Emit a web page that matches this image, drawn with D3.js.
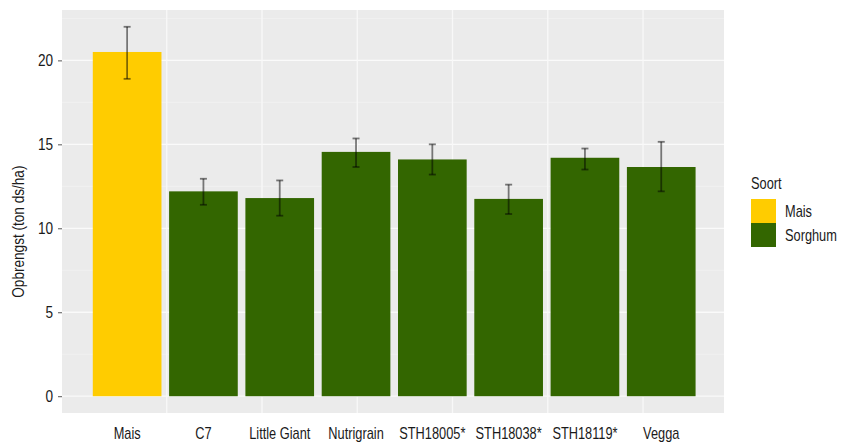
<!DOCTYPE html>
<html>
<head>
<meta charset="utf-8">
<script src="https://cdn.jsdelivr.net/npm/d3@7"></script>
<style>
  html, body { margin: 0; padding: 0; background: #ffffff; }
  svg { display: block; }
  text { font-family: "Liberation Sans", Arial, sans-serif; }
</style>
</head>
<body>
<svg id="chart" width="844" height="445"></svg>
<script>
// Yield per variety (ton ds/ha): mean with lower / upper error bar ends
const varieties = ["Mais", "C7", "Little Giant", "Nutrigrain", "STH18005*", "STH18038*", "STH18119*", "Vegga"];
const soort     = ["Mais", "Sorghum", "Sorghum", "Sorghum", "Sorghum", "Sorghum", "Sorghum", "Sorghum"];
const yieldMean = [20.5, 12.2, 11.8, 14.55, 14.1, 11.75, 14.2, 13.65];
const yieldLow  = [18.9, 11.4, 10.75, 13.65, 13.2, 10.85, 13.5, 12.2];
const yieldHigh = [22.0, 12.95, 12.85, 15.35, 15.0, 12.6, 14.75, 15.15];
const yTicks    = [0, 5, 10, 15, 20];
const yMinor    = [2.5, 7.5, 12.5, 17.5, 22.5];
const groups    = ["Mais", "Sorghum"];
const groupColors = ["#FFCC00", "#336600"];

const FONT_SIZE = "17px";
const SMALL_FONT_SIZE = "16px";
const NARROW = 0.8;   // condensed type: glyphs squeezed horizontally

// squeeze each text node horizontally around its anchor point
function condense(sel) {
  sel.each(function () {
    const ax = +this.getAttribute("x") || 0;
    const t = this.getAttribute("transform") || "";
    this.setAttribute("transform",
      `${t} translate(${ax},0) scale(${NARROW},1) translate(${-ax},0)`.trim());
  });
}

const svg = d3.select("#chart");
const panel = { left: 62, right: 724, top: 10, bottom: 413 };

const x = d3.scaleBand()
  .domain(varieties)
  .range([panel.left, panel.right])
  .paddingInner(0.1)
  .paddingOuter(0.388)
  .align(0.52);

const y = d3.scaleLinear()
  .domain([-1.0, 23.0])
  .range([panel.bottom, panel.top]);

const color = d3.scaleOrdinal().domain(groups).range(groupColors);

// vertical background guides
const xGuide = d3.scaleLinear().domain([-0.1, 6.85]).range([panel.left, panel.right]);

// panel background
svg.append("rect")
  .attr("x", panel.left).attr("y", panel.top)
  .attr("width", panel.right - panel.left)
  .attr("height", panel.bottom - panel.top)
  .attr("fill", "#EBEBEB");

const grid = svg.append("g");
grid.selectAll("line.minor").data(yMinor).join("line")
  .attr("class", "minor")
  .attr("x1", panel.left).attr("x2", panel.right)
  .attr("y1", d => y(d)).attr("y2", d => y(d))
  .attr("stroke", "#F3F3F3").attr("stroke-width", 0.8);
grid.selectAll("line.major").data(yTicks).join("line")
  .attr("class", "major")
  .attr("x1", panel.left).attr("x2", panel.right)
  .attr("y1", d => y(d)).attr("y2", d => y(d))
  .attr("stroke", "#FAFAFA").attr("stroke-width", 1.3);
grid.selectAll("line.vert").data(d3.range(1, 7)).join("line")
  .attr("class", "vert")
  .attr("x1", d => xGuide(d)).attr("x2", d => xGuide(d))
  .attr("y1", panel.top).attr("y2", panel.bottom)
  .attr("stroke", "#F8F8F8").attr("stroke-width", 1.3);

const rows = varieties.map((v, i) => ({
  name: v, group: soort[i], mean: yieldMean[i], lo: yieldLow[i], hi: yieldHigh[i]
}));

// bars
svg.append("g").selectAll("rect").data(rows).join("rect")
  .attr("x", d => x(d.name))
  .attr("width", x.bandwidth())
  .attr("y", d => y(d.mean))
  .attr("height", d => y(0) - y(d.mean))
  .attr("fill", d => color(d.group));

// error bars
const eb = svg.append("g")
  .attr("stroke", "#000000")
  .attr("stroke-opacity", 0.5)
  .attr("stroke-width", 1.8)
  .attr("fill", "none");
const cap = 3.5;
rows.forEach(d => {
  const cx = x(d.name) + x.bandwidth() / 2;
  eb.append("line").attr("x1", cx).attr("x2", cx).attr("y1", y(d.lo)).attr("y2", y(d.hi));
  eb.append("line").attr("x1", cx - cap).attr("x2", cx + cap).attr("y1", y(d.lo)).attr("y2", y(d.lo));
  eb.append("line").attr("x1", cx - cap).attr("x2", cx + cap).attr("y1", y(d.hi)).attr("y2", y(d.hi));
});

// y axis
const yAxis = svg.append("g")
  .attr("transform", `translate(${panel.left},0)`)
  .call(d3.axisLeft(y).tickValues(yTicks).tickSize(4).tickPadding(5));
yAxis.select(".domain").remove();
yAxis.selectAll(".tick line").attr("stroke", "#555555");
yAxis.selectAll(".tick text")
  .attr("fill", "#1a1a1a")
  .style("font-size", FONT_SIZE)
  .call(condense);

// x axis labels
const xAxis = svg.append("g")
  .attr("transform", `translate(0,${panel.bottom})`)
  .call(d3.axisBottom(x).tickSize(0).tickPadding(15));
xAxis.select(".domain").remove();
xAxis.selectAll(".tick text")
  .attr("fill", "#1a1a1a")
  .style("font-size", SMALL_FONT_SIZE)
  .call(condense);

// y axis title
svg.append("text")
  .attr("transform", `translate(18,${y(9.8)}) rotate(-90)`)
  .attr("text-anchor", "middle")
  .attr("dy", "0.35em")
  .attr("fill", "#1a1a1a")
  .style("font-size", FONT_SIZE)
  .text("Opbrengst (ton ds/ha)")
  .call(condense);

// legend
const legend = svg.append("g").attr("transform", "translate(751,189)");
legend.append("text")
  .attr("x", 0).attr("y", 0)
  .attr("fill", "#1a1a1a")
  .style("font-size", SMALL_FONT_SIZE)
  .text("Soort")
  .call(condense);
const keyH = 24, keyW = 25;
groups.forEach((g, i) => {
  const ky = 10 + i * keyH;
  legend.append("rect")
    .attr("x", 0).attr("y", ky)
    .attr("width", keyW).attr("height", keyH)
    .attr("fill", color(g));
  legend.append("text")
    .attr("x", keyW + 9).attr("y", ky + keyH / 2)
    .attr("dy", "0.35em")
    .attr("fill", "#1a1a1a")
    .style("font-size", SMALL_FONT_SIZE)
    .text(g)
    .call(condense);
});
</script>
</body>
</html>
